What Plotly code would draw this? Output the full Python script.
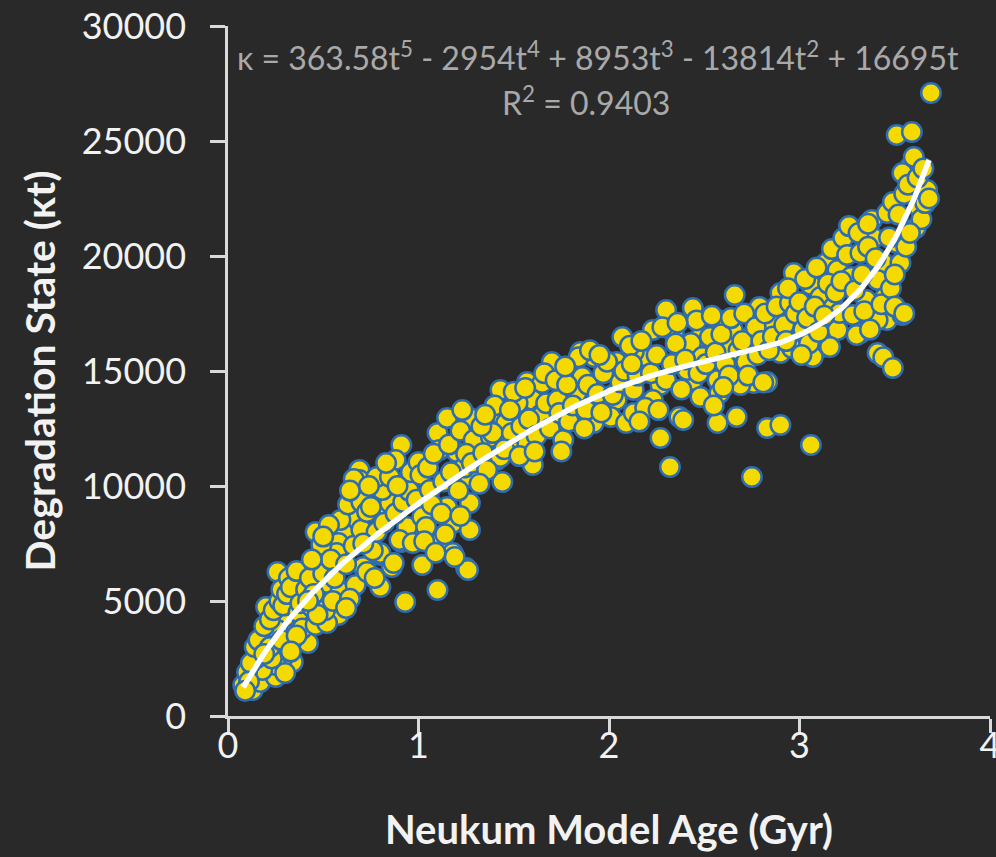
import plotly.graph_objects as go
import numpy as np

# Crater measurements: Neukum model age (Gyr) vs degradation state (kt)
age_gyr = [
    # 0.0 - 0.4 Gyr
    0.08, 0.13, 0.17, 0.25, 0.34, 0.29, 0.21, 0.25, 0.31, 0.42, 0.20, 0.26, 0.35, 0.38, 0.34, 0.40,
    0.30, 0.26, 0.33, 0.25, 0.18, 0.15, 0.30, 0.10, 0.12, 0.14, 0.16, 0.19, 0.22, 0.23, 0.24, 0.27,
    0.28, 0.29, 0.31, 0.32, 0.33, 0.36, 0.37, 0.39, 0.22, 0.19, 0.11, 0.09, 0.28, 0.36, 0.38, 0.41,
    0.33,
    # 0.4 - 0.7 Gyr
    0.46, 0.61, 0.72, 0.46, 0.58, 0.52, 0.59, 0.44, 0.46, 0.58, 0.52, 0.67, 0.65, 0.68, 0.59, 0.57,
    0.71, 0.69, 0.69, 0.43, 0.45, 0.48, 0.49, 0.50, 0.51, 0.53, 0.54, 0.55, 0.56, 0.62, 0.63, 0.64,
    0.66, 0.67, 0.70, 0.47, 0.50, 0.42, 0.44, 0.62, 0.66, 0.70, 0.64,
    # 0.7 - 1.0 Gyr
    0.80, 0.93, 0.80, 0.91, 0.98, 0.86, 0.73, 0.84, 0.73, 0.91, 0.88, 0.85, 0.81, 0.78, 0.85, 0.75,
    0.94, 0.90, 0.97, 0.80, 0.87, 0.76, 0.78, 0.82, 0.88, 0.92, 0.95, 0.96, 0.99, 0.74, 0.83, 0.89,
    0.77, 0.71,
    # 1.0 - 1.3 Gyr
    1.00, 1.01, 1.10, 1.15, 1.27, 1.23, 1.20, 1.11, 1.27, 1.27, 1.18, 1.15, 1.06, 1.02, 1.11, 1.04,
    1.27, 1.02, 1.18, 1.25, 1.10, 1.26, 1.19, 1.31, 1.05, 1.08, 1.13, 1.16, 1.22, 1.24, 1.29, 1.07,
    1.12, 1.21, 1.25, 1.17, 1.03, 1.09, 1.14, 1.22, 1.28,
    # 1.3 - 1.7 Gyr
    1.38, 1.44, 1.43, 1.52, 1.60, 1.64, 1.57, 1.60, 1.44, 1.41, 1.57, 1.65, 1.52, 1.64, 1.46, 1.39,
    1.34, 1.43, 1.70, 1.33, 1.36, 1.40, 1.47, 1.49, 1.50, 1.54, 1.56, 1.58, 1.62, 1.67, 1.69, 1.35,
    1.45, 1.53, 1.32, 1.48, 1.61, 1.66,
    # 1.7 - 2.1 Gyr
    1.85, 1.80, 1.86, 1.92, 1.73, 1.83, 2.04, 1.92, 1.76, 1.74, 2.01, 2.04, 2.07, 2.09, 1.72, 1.75,
    1.78, 1.79, 1.81, 1.84, 1.88, 1.89, 1.90, 1.94, 1.96, 1.97, 1.99, 2.02, 2.06, 1.87, 1.95, 2.08,
    1.77,
    # 2.1 - 2.5 Gyr
    2.44, 2.23, 2.34, 2.41, 2.48, 2.20, 2.13, 2.27, 2.23, 2.44, 2.48, 2.37, 2.13, 2.13, 2.27, 2.32,
    2.30, 2.39, 2.46, 2.43, 2.49, 2.41, 2.11, 2.15, 2.17, 2.19, 2.22, 2.25, 2.28, 2.30, 2.33, 2.35,
    2.38, 2.40, 2.16, 2.26, 2.36, 2.47, 2.12,
    # 2.5 - 2.9 Gyr
    2.66, 2.57, 2.79, 2.85, 2.74, 2.65, 2.53, 2.62, 2.57, 2.83, 2.76, 2.69, 2.58, 2.57, 2.67, 2.83,
    2.75, 2.90, 2.90, 2.51, 2.54, 2.56, 2.59, 2.61, 2.63, 2.64, 2.68, 2.70, 2.71, 2.72, 2.73, 2.77,
    2.78, 2.80, 2.82, 2.84, 2.86, 2.88, 2.55, 2.60, 2.81, 2.90,
    # 2.9 - 3.2 Gyr
    2.97, 3.06, 2.95, 3.11, 3.18, 3.20, 3.12, 3.07, 2.99, 3.06, 3.14, 3.20, 3.21, 3.16, 2.92, 2.94,
    2.96, 2.98, 3.00, 3.02, 3.03, 3.04, 3.05, 3.08, 3.09, 3.10, 3.13, 3.15, 3.17, 3.19, 2.93, 3.01,
    # 3.2 - 3.45 Gyr
    3.23, 3.39, 3.25, 3.35, 3.28, 3.32, 3.41, 3.32, 3.44, 3.27, 3.41, 3.45, 3.46, 3.41, 3.30, 3.38,
    3.46, 3.44, 3.22, 3.26, 3.29, 3.31, 3.33, 3.34, 3.36, 3.37, 3.40, 3.43, 3.36,
    # 3.45 - 3.7 Gyr
    3.69, 3.51, 3.59, 3.58, 3.54, 3.67, 3.63, 3.49, 3.61, 3.51, 3.53, 3.54, 3.49, 3.47, 3.48, 3.50,
    3.52, 3.55, 3.56, 3.57, 3.60, 3.62, 3.64, 3.65, 3.66, 3.55, 3.50, 3.58, 3.68,
]

degradation_kt = [
    # 0.0 - 0.4 Gyr
    1350, 1130, 1480, 1700, 2350, 2570, 3520, 2780, 3610, 3170, 4740, 6260, 5170, 5910, 4610, 4170,
    4300, 3740, 3170, 2220, 2000, 2520, 1870, 1900, 2300, 3000, 3300, 3900, 4200, 2500, 4600, 5000,
    5500, 4800, 5300, 6000, 5600, 6300, 4500, 3800, 3000, 2700, 1500, 1100, 3300, 3500, 4900, 5500,
    2800,
    # 0.4 - 0.7 Gyr
    8000, 7960, 7870, 6570, 7520, 5780, 5390, 4740, 3960, 4390, 4040, 5700, 8830, 8520, 8520, 7090,
    6480, 10700, 10260, 6000, 5300, 7000, 7430, 6200, 4600, 8300, 6800, 5000, 6000, 6600, 9200, 5100,
    7400, 9700, 8100, 4400, 7800, 5000, 6800, 4700, 10300, 9300, 9800,
    # 0.7 - 1.0 Gyr
    5610, 4960, 7000, 7570, 8170, 6480, 6260, 9090, 8870, 11780, 11130, 9260, 9830, 10390, 10390, 9090,
    8220, 7650, 7520, 7090, 6650, 7200, 8000, 8400, 8800, 9300, 9800, 10600, 9400, 10000, 11000, 10000,
    6000, 7500,
    # 1.0 - 1.3 Gyr
    11040, 10480, 12300, 12960, 12960, 13300, 11480, 11570, 10390, 9260, 8390, 9090, 9830, 8650, 7520, 8220,
    8090, 6570, 7090, 6430, 5480, 6350, 6910, 11570, 10800, 11400, 10200, 11800, 12400, 10800, 12000, 9200,
    8800, 9800, 11400, 10600, 7600, 7100, 7900, 8700, 11000,
    # 1.3 - 1.7 Gyr
    12130, 13000, 14170, 13390, 13740, 13090, 11910, 10910, 10170, 11130, 14520, 14480, 13610, 13000, 12740, 12300,
    11440, 11260, 15390, 12600, 10700, 13500, 11800, 12300, 14100, 12600, 14260, 12900, 12200, 13600, 12500, 13100,
    11600, 11300, 10100, 13300, 11500, 14900,
    # 1.7 - 2.1 Gyr
    15830, 15130, 14740, 15610, 13740, 14040, 13740, 12740, 12000, 13170, 13000, 15390, 16480, 12740, 14600, 11500,
    14400, 12800, 13500, 15600, 13300, 14400, 15900, 14000, 13200, 14900, 15400, 13960, 14500, 12500, 15700, 15000,
    15200,
    # 2.1 - 2.5 Gyr
    17740, 16780, 16650, 16040, 16480, 15610, 15830, 14390, 13740, 14610, 13870, 13000, 13170, 14170, 12090, 10830,
    17650, 12870, 17200, 16220, 15610, 15040, 16100, 14800, 16300, 13400, 14900, 15700, 16900, 14600, 15300, 16200,
    14200, 15500, 12800, 13300, 17100, 14900, 15300,
    # 2.5 - 2.9 Gyr
    18300, 17220, 17780, 17090, 16480, 16780, 16480, 16040, 14610, 14520, 14480, 14390, 14040, 12740, 13000, 12520,
    10390, 18390, 15780, 15300, 17400, 15800, 16600, 15300, 14800, 17300, 15900, 16300, 17500, 15400, 14800, 16900,
    15700, 16300, 17500, 15900, 16500, 17800, 13500, 14300, 14500, 12650,
    # 2.9 - 3.2 Gyr
    19260, 18740, 17960, 18220, 17780, 16780, 16040, 15610, 16350, 11780, 19700, 19390, 17520, 16040, 17000, 18600,
    16000, 17500, 18000, 16800, 19000, 17300, 16200, 17800, 19500, 16700, 17400, 18800, 20300, 18400, 16300, 15700,
    # 3.2 - 3.45 Gyr
    20780, 20780, 20040, 18090, 17440, 16650, 15780, 20130, 19700, 19090, 18960, 18220, 17220, 17220, 16570, 21570,
    21870, 15600, 18900, 21300, 18500, 21000, 19200, 17600, 20400, 16800, 19900, 17900, 21400,
    # 3.45 - 3.7 Gyr
    27090, 25260, 25390, 23870, 23610, 22870, 22090, 22350, 21220, 20570, 19700, 17440, 15130, 20800, 18600, 17800,
    21800, 22700, 20400, 23100, 24300, 23400, 21600, 23800, 22300, 17500, 19200, 21000, 22500,
]

# Fifth-order polynomial trendline (highest power first, no intercept)
fit_coeffs = [363.58, -2954, 8953, -13814, 16695, 0]
fit_range = [0.08, 3.68]
equation_text = "κ = 363.58t<sup>5</sup> - 2954t<sup>4</sup> + 8953t<sup>3</sup> - 13814t<sup>2</sup> + 16695t"
r2_text = "R<sup>2</sup> = 0.9403"

x_ticks = [0, 1, 2, 3, 4]
y_ticks = [0, 5000, 10000, 15000, 20000, 25000, 30000]
y_tick_labels = ["0", "5000", "10000", "15000", "20000", "25000", "30000"]

t_fit = np.linspace(fit_range[0], fit_range[1], 300)
k_fit = np.polyval(fit_coeffs, t_fit)

BG = "#292929"
AXIS = "#d9d9d9"
FONT = "Lato"

fig = go.Figure()
fig.add_trace(go.Scatter(
    x=age_gyr, y=degradation_kt, mode="markers",
    marker=dict(size=19.5, color="#f4da00", line=dict(color="#2f6db0", width=2.5)),
    hoverinfo="x+y", showlegend=False,
))
fig.add_trace(go.Scatter(
    x=t_fit, y=k_fit, mode="lines",
    line=dict(color="#ffffff", width=5.5), hoverinfo="skip", showlegend=False,
))

fig.add_annotation(x=1.94, y=28700, xref="x", yref="y", text=equation_text,
                   showarrow=False, xanchor="center", yanchor="middle",
                   font=dict(family=FONT, size=32, color="#a9a9a9"))
fig.add_annotation(x=1.88, y=26750, xref="x", yref="y", text=r2_text,
                   showarrow=False, xanchor="center", yanchor="middle",
                   font=dict(family=FONT, size=32, color="#a9a9a9"))

fig.update_layout(
    width=996, height=857,
    margin=dict(l=228, r=6, t=26, b=141, autoexpand=False),
    paper_bgcolor=BG, plot_bgcolor=BG,
    font=dict(family=FONT, color="#f2f2f2"),
    xaxis=dict(
        range=[0, 4], tickvals=x_ticks, ticks="outside", ticklen=14, tickwidth=2.5,
        tickcolor=AXIS, showline=True, linecolor=AXIS, linewidth=2.5,
        showgrid=False, zeroline=False, tickfont=dict(size=36, color="#f2f2f2"),
        ticklabelstandoff=-18, ticklabeloverflow="allow",
        title=dict(text="<b>Neukum Model Age (Gyr)</b>", font=dict(size=40, color="#f2f2f2"),
                   standoff=52),
    ),
    yaxis=dict(
        range=[0, 30000], tickvals=y_ticks, ticktext=y_tick_labels, ticks="outside",
        ticklen=15, tickwidth=2.5,
        tickcolor=AXIS, showline=True, linecolor=AXIS, linewidth=2.5,
        showgrid=False, zeroline=False, tickfont=dict(size=36, color="#f2f2f2"),
        ticklabelstandoff=17,
        title=dict(text="<b>Degradation State (κt)</b>", font=dict(size=41, color="#f2f2f2"),
                   standoff=14),
    ),
)

fig.write_html("out.html")
